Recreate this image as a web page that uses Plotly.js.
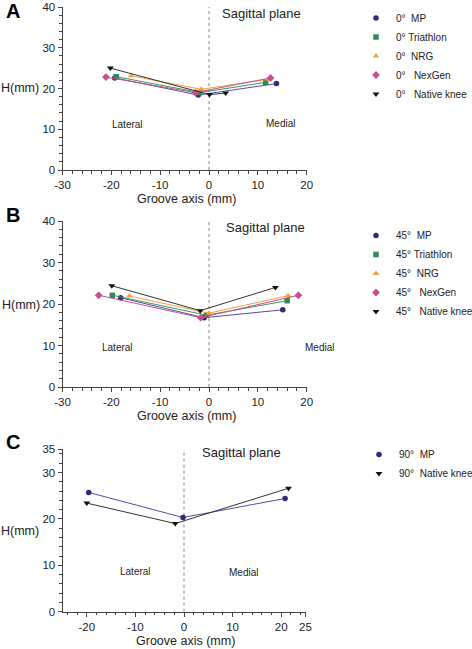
<!DOCTYPE html>
<html>
<head>
<meta charset="utf-8">
<script src="https://cdn.plot.ly/plotly-3.0.1.min.js"></script>
<style>html,body{margin:0;padding:0;background:#fff}#chart{width:472px;height:649px}</style>
</head>
<body>
<div id="chart"></div>
<script>
// ---- Panel A (0°) ----
const mp0_x  = [-19.3, -2.2, 13.8];  const mp0_y  = [22.6, 18.4, 21.2];
const tri0_x = [-19.0, -1.9, 11.6];  const tri0_y = [22.9, 19.0, 21.5];
const nrg0_x = [-15.9, -1.6, 12.3];  const nrg0_y = [23.1, 19.8, 22.3];
const nex0_x = [-21.1, -2.8, 12.6];  const nex0_y = [22.8, 19.0, 22.6];
const nat0_x = [-20.2, 0.1, 3.4];    const nat0_y = [25.0, 18.5, 18.9];
// ---- Panel B (45°) ----
const mp45_x  = [-18.1, -1.0, 15.1]; const mp45_y  = [21.5, 16.7, 18.6];
const tri45_x = [-19.8, -0.5, 16.0]; const tri45_y = [22.1, 17.3, 20.8];
const nrg45_x = [-16.3, 0.0, 16.2];  const nrg45_y = [21.9, 17.8, 22.0];
const nex45_x = [-22.6, -1.7, 18.3]; const nex45_y = [22.1, 16.7, 22.1];
const nat45_x = [-19.9, -1.8, 13.6]; const nat45_y = [24.4, 18.4, 24.0];
// ---- Panel C (90°) ----
const mp90_x  = [-19.6, -0.2, 20.8]; const mp90_y  = [25.7, 20.3, 24.4];
const nat90_x = [-20.0, -1.8, 21.5]; const nat90_y = [23.4, 19.0, 26.6];

// legend names
const namesA = ["0°\u00a0\u00a0MP", "0° Triathlon", "0°\u00a0\u00a0NRG", "0°\u00a0\u00a0\u00a0NexGen", "0°\u00a0\u00a0\u00a0Native knee"];
const namesB = ["45°\u00a0\u00a0MP", "45° Triathlon", "45°\u00a0\u00a0NRG", "45°\u00a0\u00a0\u00a0NexGen", "45°\u00a0\u00a0\u00a0Native knee"];
const namesC = ["90°\u00a0\u00a0MP", "90°\u00a0\u00a0Native knee"];

// tick labels
const xTicksAB = [-30, -20, -10, 0, 10, 20];
const xTextAB  = ["-30", "-20", "-10", "0", "10", "20"];
const xTicksC  = [-20, -10, 0, 10, 20, 25];
const xTextC   = ["-20", "-10", "0", "10", "20", "25"];
const yTicksAB = [0, 10, 20, 30, 40];
const yTicksC  = [0, 10, 20, 30, 35];

const W = 472, H = 649;
const px = v => v / W, py = v => 1 - v / H;

const styles = [
  {marker: {symbol: 'circle', color: '#35287a', size: 5.5}, line: {color: '#5a4aa8', width: 1}},
  {marker: {symbol: 'square', color: '#2f8a5a', size: 5.5}, line: {color: '#3a9464', width: 1}},
  {marker: {symbol: 'triangle-up', color: '#f2a040', size: 6}, line: {color: '#f2a040', width: 1}},
  {marker: {symbol: 'diamond', color: '#c4508c', size: 6}, line: {color: '#c4508c', width: 1}},
  {marker: {symbol: 'triangle-down', color: '#111111', size: 6}, line: {color: '#333333', width: 1}}
];

const data = [];
function add(x, y, name, st, xa, ya, lg) {
  data.push({type: 'scatter', mode: 'lines', x: x, y: y, name: name, showlegend: false,
    line: st.line, xaxis: xa, yaxis: ya, legend: lg, cliponaxis: false, hoverinfo: 'skip'});
  data.push({type: 'scatter', mode: 'markers', x: x, y: y, name: name,
    marker: st.marker, xaxis: xa, yaxis: ya, legend: lg, cliponaxis: false});
}
add(mp0_x, mp0_y, namesA[0], styles[0], 'x', 'y', 'legend');
add(tri0_x, tri0_y, namesA[1], styles[1], 'x', 'y', 'legend');
add(nrg0_x, nrg0_y, namesA[2], styles[2], 'x', 'y', 'legend');
add(nex0_x, nex0_y, namesA[3], styles[3], 'x', 'y', 'legend');
add(nat0_x, nat0_y, namesA[4], styles[4], 'x', 'y', 'legend');
add(mp45_x, mp45_y, namesB[0], styles[0], 'x2', 'y2', 'legend2');
add(tri45_x, tri45_y, namesB[1], styles[1], 'x2', 'y2', 'legend2');
add(nrg45_x, nrg45_y, namesB[2], styles[2], 'x2', 'y2', 'legend2');
add(nex45_x, nex45_y, namesB[3], styles[3], 'x2', 'y2', 'legend2');
add(nat45_x, nat45_y, namesB[4], styles[4], 'x2', 'y2', 'legend2');
add(mp90_x, mp90_y, namesC[0], styles[0], 'x3', 'y3', 'legend3');
add(nat90_x, nat90_y, namesC[1], styles[4], 'x3', 'y3', 'legend3');

const axCommon = {
  showline: true, linecolor: '#444', linewidth: 1, showgrid: false, zeroline: false,
  ticks: 'outside', ticklen: 4, tickwidth: 1, tickcolor: '#444',
  tickfont: {family: 'Liberation Sans, Arial, sans-serif', size: 11.5, color: '#222'},
  minor: {dtick: 2, ticks: 'outside', ticklen: 2.5, tickcolor: '#444', tickwidth: 1, showgrid: false},
  fixedrange: true, automargin: false
};
function xa(dom, range, tv, tt, anchor) {
  return Object.assign({}, axCommon, {domain: dom, range: range, tickmode: 'array', tickvals: tv, ticktext: tt, anchor: anchor});
}
function ya(dom, range, tv, anchor) {
  return Object.assign({}, axCommon, {domain: dom, range: range, tickmode: 'array', tickvals: tv, ticktext: tv.map(String), anchor: anchor});
}

const fontTxt = {family: 'Liberation Sans, Arial, sans-serif', color: '#222'};
function ann(text, x, y, size, bold) {
  return {text: bold ? '<b>' + text + '</b>' : text, xref: 'paper', yref: 'paper', x: px(x), y: py(y),
    xanchor: 'center', yanchor: 'middle', showarrow: false,
    font: Object.assign({}, fontTxt, {size: size, color: bold ? '#000' : '#222'})};
}

const annotations = [
  ann('A', 13, 11, 20, true), ann('B', 13, 215, 20, true), ann('C', 13, 442, 20, true),
  ann('Sagittal plane', 261, 13, 13), ann('Sagittal plane', 265, 227, 13), ann('Sagittal plane', 242, 452, 13),
  ann('Lateral', 127, 124, 10), ann('Medial', 280, 123, 10),
  ann('Lateral', 117, 347, 10), ann('Medial', 319, 347, 10),
  ann('Lateral', 135, 571, 10), ann('Medial', 244, 572, 10),
  ann('H(mm)', 20, 88, 12.5), ann('H(mm)', 21, 305, 12.5), ann('H(mm)', 20, 531, 12.5),
  ann('Groove axis (mm)', 186, 199, 12.5), ann('Groove axis (mm)', 186, 416, 12.5), ann('Groove axis (mm)', 185, 641, 12.5)
];

function vline(xr, yr) {
  return {type: 'line', xref: xr, yref: yr + ' domain', x0: 0, x1: 0, y0: 0, y1: 1,
    line: {color: '#888', width: 1, dash: 'dot'}, layer: 'below'};
}

const legFont = {family: 'Liberation Sans, Arial, sans-serif', size: 10, color: '#222'};
const layout = {
  width: W, height: H, margin: {l: 0, r: 0, t: 0, b: 0, pad: 0, autoexpand: false},
  paper_bgcolor: '#fff', plot_bgcolor: '#fff',
  xaxis:  xa([px(62.5), px(306.7)], [-30, 20], xTicksAB, xTextAB, 'y'),
  yaxis:  ya([py(170), py(7)], [0, 40], yTicksAB, 'x'),
  xaxis2: xa([px(62.5), px(306.7)], [-30, 20], xTicksAB, xTextAB, 'y2'),
  yaxis2: ya([py(387), py(221)], [0, 40], yTicksAB, 'x2'),
  xaxis3: xa([px(62.5), px(305.5)], [-25, 25], xTicksC, xTextC, 'y3'),
  yaxis3: ya([py(611.7), py(449.3)], [0, 35], yTicksC, 'x3'),
  showlegend: true,
  legend:  {x: px(356), y: py(3.5), xanchor: 'left', yanchor: 'top', font: legFont, bgcolor: 'rgba(0,0,0,0)', itemclick: false},
  legend2: {x: px(356), y: py(221), xanchor: 'left', yanchor: 'top', font: legFont, bgcolor: 'rgba(0,0,0,0)', itemclick: false},
  legend3: {x: px(359), y: py(440), xanchor: 'left', yanchor: 'top', font: legFont, bgcolor: 'rgba(0,0,0,0)', itemclick: false},
  shapes: [vline('x', 'y'), vline('x2', 'y2'), vline('x3', 'y3')],
  annotations: annotations
};

Plotly.newPlot('chart', data, layout, {staticPlot: true, displayModeBar: false});
</script>
</body>
</html>
